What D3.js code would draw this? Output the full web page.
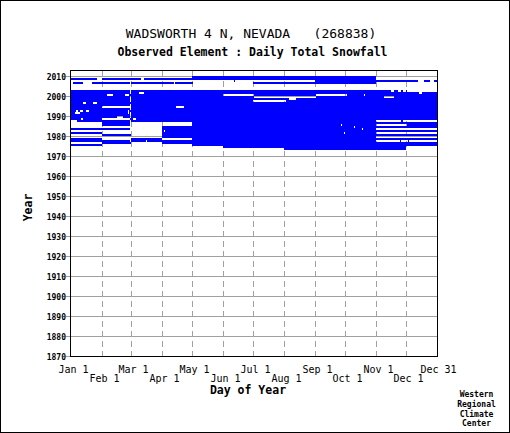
<!DOCTYPE html>
<html><head><meta charset="utf-8">
<script src="https://cdn.jsdelivr.net/npm/d3@7"></script>
<style>html,body{margin:0;padding:0;background:#fff}svg{display:block}</style>
</head><body>
<script>
// ---- data ----
const title = "WADSWORTH 4 N, NEVADA   (268838)";
const subtitle = "Observed Element : Daily Total Snowfall";
const yearTicks = d3.range(1870, 2011, 10);
const monthTicksTop = [["Jan 1",1],["Mar 1",61],["May 1",122],["Jul 1",183],["Sep 1",245],["Nov 1",306],["Dec 31",366]];
const monthTicksBottom = [["Feb 1",32],["Apr 1",92],["Jun 1",153],["Aug 1",214],["Oct 1",275],["Dec 1",336]];
const monthStarts = [32,61,92,122,153,183,214,245,275,306,336];
const credit = ["Western","Regional","Climate","Center"];
// blue runs of observed days per year (day of a 366-day year)
const runs = [
  [2009, [[122,305]]],
  [2008, [[1,26],[32,70],[74,305]]],
  [2007, [[164,164],[245,347],[354,359],[364,366]]],
  [2006, [[3,12],[22,103],[105,122],[183,305]]],
  [2002, [[1,320],[324,327],[331,332],[336,336]]],
  [2001, [[1,68],[74,348],[352,366]]],
  [2000, [[1,36],[43,54],[59,152],[184,245],[277,293],[295,366]]],
  [1999, [[1,183],[246,313],[324,366]]],
  [1998, [[1,218],[226,366]]],
  [1997, [[1,182],[216,366]]],
  [1996, [[1,12],[16,22],[27,366]]],
  [1995, [[1,366]]],
  [1994, [[1,31],[60,105],[114,366]]],
  [1993, [[1,366]]],
  [1992, [[1,5],[8,9],[13,15],[19,57],[59,366]]],
  [1991, [[1,4],[10,57],[59,366]]],
  [1990, [[1,366]]],
  [1989, [[1,46],[53,366]]],
  [1988, [[1,10],[13,31],[60,62],[66,366]]],
  [1987, [[7,305],[331,332]]],
  [1986, [[32,60],[122,366]]],
  [1985, [[32,60],[122,270],[272,305],[337,366]]],
  [1984, [[92,283],[285,366]]],
  [1983, [[1,60],[92,291],[293,305]]],
  [1982, [[92,93],[95,366]]],
  [1981, [[1,31],[92,273],[275,305]]],
  [1980, [[32,60],[92,366]]],
  [1979, [[92,305]]],
  [1978, [[1,31],[61,91],[122,366]]],
  [1977, [[1,75],[77,305],[330,330],[338,338]]],
  [1976, [[32,60],[92,366]]],
  [1975, [[1,31],[122,366]]],
  [1974, [[153,335]]],
  [1973, [[214,335]]]
];

// ---- drawing ----
const W = 510, H = 433;
const svg = d3.select("body").append("svg").attr("width", W).attr("height", H);
svg.append("rect").attr("x",0.5).attr("y",0.5).attr("width",W-1).attr("height",H-1)
  .attr("fill","#fff").attr("stroke","#000");

const x = d3.scaleLinear().domain([1, 367]).range([71, 437]);
const y = d3.scaleLinear().domain([1870, 2010]).range([356, 76]);
const plotTop = 70, plotBottom = y(1870);
const grid = "#a0a0a0";

// horizontal grid
svg.append("g").selectAll("line").data(yearTicks).join("line")
  .attr("x1", 66).attr("x2", x(367)).attr("y1", d => y(d)+0.5).attr("y2", d => y(d)+0.5)
  .attr("stroke", grid).attr("stroke-width",1);
// vertical dashed grid
svg.append("g").selectAll("line").data(monthStarts).join("line")
  .attr("x1", d => x(d)+0.5).attr("x2", d => x(d)+0.5).attr("y1", plotTop+1).attr("y2", plotBottom)
  .attr("stroke", grid).attr("stroke-dasharray","6,4");

// data
const isLeap = yr => (yr%4===0 && yr%100!==0) || yr%400===0;
const cells = [];
runs.forEach(([yr, segs]) => segs.forEach(([a,b]) => {
  if (!isLeap(yr) && a <= 60 && b >= 60) {
    if (a < 60) cells.push([yr,a,59]);
    if (b > 60) cells.push([yr,61,b]);
  } else cells.push([yr,a,b]);
}));
svg.append("g").selectAll("rect").data(cells).join("rect")
  .attr("x", d => x(d[1])).attr("width", d => x(d[2]+1)-x(d[1]))
  .attr("y", d => y(d[0]+1)).attr("height", d => y(d[0]) - y(d[0]+1))
  .attr("fill", "#0000ff").attr("shape-rendering","crispEdges");

// frame
const frame = svg.append("g").attr("stroke","#000").attr("shape-rendering","crispEdges");
frame.append("line").attr("x1",70.5).attr("x2",70.5).attr("y1",plotTop).attr("y2",plotBottom+1);
frame.append("line").attr("x1",x(367)+0.5).attr("x2",x(367)+0.5).attr("y1",plotTop).attr("y2",plotBottom+1);
frame.append("line").attr("x1",70).attr("x2",x(367)+1).attr("y1",plotTop+0.5).attr("y2",plotTop+0.5);
frame.append("line").attr("x1",70).attr("x2",x(367)+1).attr("y1",plotBottom+0.5).attr("y2",plotBottom+0.5);

// y labels
const mono = "DejaVu Sans Mono";
svg.append("g").selectAll("text").data(yearTicks).join("text")
  .attr("x", 66).attr("y", d => y(d)+3.5).attr("text-anchor","end")
  .attr("font-family",mono).attr("font-size",8).attr("font-weight","bold")
  .text(d => d);

// x labels
svg.append("g").selectAll("text").data(monthTicksTop).join("text")
  .attr("x", d => x(d[1])+2.5).attr("y", 372.5).attr("text-anchor","middle")
  .attr("font-family",mono).attr("font-size",10).text(d => d[0]);
svg.append("g").selectAll("text").data(monthTicksBottom).join("text")
  .attr("x", d => x(d[1])+2.5).attr("y", 382).attr("text-anchor","middle")
  .attr("font-family",mono).attr("font-size",10).text(d => d[0]);

svg.append("text").attr("x",251).attr("y",37.5).attr("text-anchor","middle")
  .attr("font-family",mono).attr("font-size",13).style("white-space","pre").text(title);
svg.append("text").attr("x",252.5).attr("y",56).attr("text-anchor","middle")
  .attr("font-family",mono).attr("font-size",11.5).attr("font-weight","bold").text(subtitle);
svg.append("text").attr("x",248).attr("y",393.5).attr("text-anchor","middle")
  .attr("font-family",mono).attr("font-size",11.5).attr("font-weight","bold").text("Day of Year");
svg.append("text").attr("transform","translate(31.5,207.5) rotate(-90)").attr("text-anchor","middle")
  .attr("font-family",mono).attr("font-size",11.5).attr("font-weight","bold").text("Year");
svg.append("g").selectAll("text").data(credit).join("text")
  .attr("x",476.5).attr("y",(d,i)=>397+i*9.8).attr("text-anchor","middle")
  .attr("font-family",mono).attr("font-size",8).attr("font-weight","bold").text(d=>d);
</script>
</body></html>
